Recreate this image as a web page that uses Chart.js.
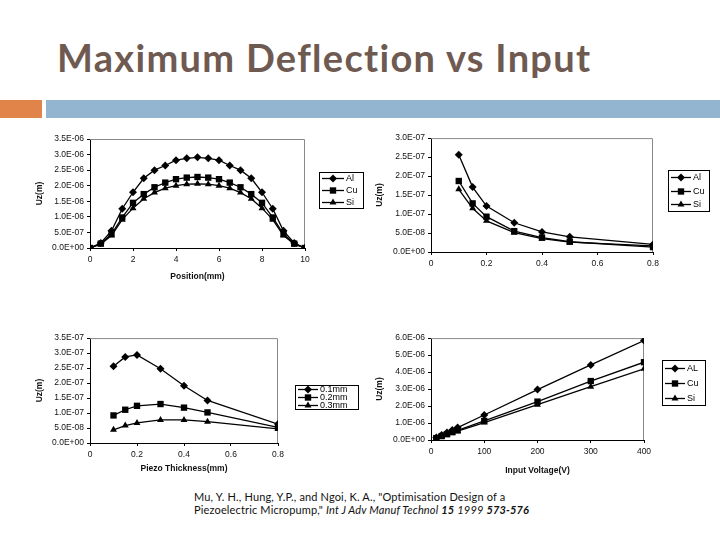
<!DOCTYPE html>
<html>
<head>
<meta charset="utf-8">
<script src="https://cdn.jsdelivr.net/npm/chart.js@4.4.1/dist/chart.umd.min.js"></script>
<style>
  body { margin: 0; width: 720px; height: 540px; background: #fff; position: relative; overflow: hidden; }
  #title { position: absolute; left: 57px; top: 34px; font-family: "Lato", sans-serif; font-weight: 700;
           font-size: 38px; color: #6f5a52; letter-spacing: 1.3px; white-space: nowrap; }
  .bar { position: absolute; top: 100px; height: 18px; }
  canvas { position: absolute; }
  #cite { position: absolute; left: 194px; top: 490px; font-family: "Lato", sans-serif; font-size: 11px;
          letter-spacing: 0.15px; line-height: 13px; color: #111; white-space: nowrap; }
</style>
</head>
<body>
<div id="title">Maximum Deflection vs Input</div>
<div class="bar" style="left:0;width:42px;background:#e0844a"></div>
<div class="bar" style="left:46px;width:674px;background:#94b5d0"></div>

<canvas id="c1" width="340" height="155" style="left:30px;top:130px"></canvas>
<canvas id="c2" width="350" height="150" style="left:370px;top:130px"></canvas>
<canvas id="c3" width="340" height="160" style="left:30px;top:330px"></canvas>
<canvas id="c4" width="350" height="160" style="left:370px;top:330px"></canvas>

<div id="cite">Mu, Y. H., Hung, Y.P., and Ngoi, K. A., "Optimisation Design of a<br>
Piezoelectric Micropump," <i>Int J Adv Manuf Technol</i> <b><i>15</i></b> <i>1999</i> <b><i>573-576</i></b></div>

<script>
// --- data ---
const positionMm = [0, 0.5, 1, 1.5, 2, 2.5, 3, 3.5, 4, 4.5, 5, 5.5, 6, 6.5, 7, 7.5, 8, 8.5, 9, 9.5, 10];
const posAl = [0, 1.6e-7, 5.5e-7, 1.26e-6, 1.79e-6, 2.24e-6, 2.50e-6, 2.65e-6, 2.82e-6, 2.88e-6, 2.91e-6,
               2.88e-6, 2.82e-6, 2.65e-6, 2.50e-6, 2.24e-6, 1.79e-6, 1.26e-6, 5.5e-7, 1.6e-7, 0];
const posCu = [0, 1.4e-7, 4.5e-7, 9.8e-7, 1.45e-6, 1.73e-6, 1.95e-6, 2.10e-6, 2.21e-6, 2.26e-6, 2.28e-6,
               2.26e-6, 2.21e-6, 2.10e-6, 1.95e-6, 1.73e-6, 1.45e-6, 9.8e-7, 4.5e-7, 1.4e-7, 0];
const posSi = [0, 1.2e-7, 4.0e-7, 9.1e-7, 1.28e-6, 1.58e-6, 1.78e-6, 1.92e-6, 2.00e-6, 2.05e-6, 2.06e-6,
               2.05e-6, 2.00e-6, 1.92e-6, 1.78e-6, 1.58e-6, 1.28e-6, 9.1e-7, 4.0e-7, 1.2e-7, 0];

const thicknessMm = [0.1, 0.15, 0.2, 0.3, 0.4, 0.5, 0.8];
const thkAl = [2.56e-7, 1.71e-7, 1.21e-7, 7.7e-8, 5.3e-8, 4.0e-8, 2.0e-8];
const thkCu = [1.87e-7, 1.28e-7, 9.3e-8, 5.5e-8, 3.8e-8, 2.7e-8, 1.3e-8];
const thkSi = [1.65e-7, 1.15e-7, 8.2e-8, 5.1e-8, 3.5e-8, 2.6e-8, 1.6e-8];

const piezoMm = [0.1, 0.15, 0.2, 0.3, 0.4, 0.5, 0.8];
const pz01 = [2.56e-7, 2.87e-7, 2.94e-7, 2.48e-7, 1.91e-7, 1.42e-7, 6.3e-8];
const pz02 = [9.2e-8, 1.11e-7, 1.24e-7, 1.30e-7, 1.18e-7, 1.02e-7, 5.2e-8];
const pz03 = [4.4e-8, 5.8e-8, 6.7e-8, 7.7e-8, 7.7e-8, 7.1e-8, 4.7e-8];

const voltageV = [10, 20, 30, 40, 50, 100, 200, 300, 400];
const voltAl = [1.5e-7, 2.9e-7, 4.4e-7, 5.9e-7, 7.3e-7, 1.47e-6, 2.97e-6, 4.42e-6, 5.86e-6];
const voltCu = [1.1e-7, 2.3e-7, 3.4e-7, 4.6e-7, 5.7e-7, 1.12e-6, 2.26e-6, 3.47e-6, 4.58e-6];
const voltSi = [1.0e-7, 2.1e-7, 3.1e-7, 4.2e-7, 5.2e-7, 1.03e-6, 2.08e-6, 3.14e-6, 4.19e-6];

const materialLabels = ['Al', 'Cu', 'Si'];
const voltLabels = ['AL', 'Cu', 'Si'];
const piezoLabels = ['0.1mm', '0.2mm', '0.3mm'];
const markers = ['rectRot', 'rect', 'triangle'];

// --- helpers ---
function sci(v) {
  const [m, e] = Number(v).toExponential(1).split('e');
  const n = Math.abs(parseInt(e, 10));
  return m + 'E' + (e[0] === '-' ? '-' : '+') + String(n).padStart(2, '0');
}

function makeSets(xs, series, labels) {
  return series.map((ys, i) => ({
    label: labels[i],
    data: xs.map((x, j) => ({ x: x, y: ys[j] })),
    showLine: true,
    borderColor: '#000',
    backgroundColor: '#000',
    borderWidth: 1.3,
    pointStyle: markers[i],
    pointRadius: i === 1 ? 4.5 : 4,
    pointBorderWidth: 0,
    pointBackgroundColor: '#000'
  }));
}

const frame = {
  id: 'frame',
  beforeDatasetsDraw(chart) {
    const a = chart.chartArea, ctx = chart.ctx;
    ctx.save();
    ctx.strokeStyle = '#888';
    ctx.lineWidth = 1;
    ctx.beginPath();
    ctx.moveTo(a.left, a.top + 0.5);
    ctx.lineTo(a.right - 0.5, a.top + 0.5);
    ctx.lineTo(a.right - 0.5, a.bottom);
    ctx.stroke();
    ctx.restore();
  }
};

const boxLegend = {
  id: 'boxLegend',
  afterDraw(chart, args, o) {
    const ctx = chart.ctx;
    const sets = chart.data.datasets;
    const rowH = o.h / sets.length;
    ctx.save();
    ctx.strokeStyle = '#000';
    ctx.lineWidth = 1;
    ctx.strokeRect(o.x + 0.5, o.y + 0.5, o.w, o.h);
    ctx.font = o.font;
    ctx.textBaseline = 'middle';
    ctx.fillStyle = '#000';
    sets.forEach((ds, i) => {
      const cy = Math.round(o.y + rowH * (i + 0.5)) + 0.5;
      ctx.lineWidth = 1.3;
      ctx.beginPath();
      ctx.moveTo(o.x + 3, cy);
      ctx.lineTo(o.x + 3 + o.line, cy);
      ctx.stroke();
      Chart.helpers.drawPoint(ctx, { pointStyle: ds.pointStyle, radius: ds.pointRadius, borderWidth: 0, rotation: 0 },
        o.x + 3 + o.line / 2, cy);
      ctx.fillText(ds.label, o.x + 5 + o.line, cy + 0.5);
    });
    ctx.restore();
  }
};

const tickFont = { family: '"Liberation Sans", Arial, sans-serif', size: 8.5 };
const titleFont = { family: '"Liberation Sans", Arial, sans-serif', size: 8.5, weight: 'bold' };

function makeChart(id, sets, cfg) {
  return new Chart(document.getElementById(id), {
    type: 'scatter',
    data: { datasets: sets },
    plugins: [frame, boxLegend],
    options: {
      responsive: false,
      animation: false,
      layout: { padding: cfg.pad },
      plugins: {
        legend: { display: false },
        tooltip: { enabled: false },
        boxLegend: cfg.legend
      },
      scales: {
        x: {
          type: 'linear', min: cfg.x[0], max: cfg.x[1],
          ticks: { stepSize: cfg.x[2], font: tickFont, color: '#111', padding: 4 },
          grid: { display: true, drawOnChartArea: false, tickLength: 3, color: '#000' },
          border: { color: '#000' },
          title: { display: !!cfg.xTitle, text: cfg.xTitle, font: titleFont, color: '#111', padding: { top: 4, bottom: 0 } },
          afterFit(s) { s.height = cfg.xh; }
        },
        y: {
          type: 'linear', min: cfg.y[0], max: cfg.y[1],
          ticks: { stepSize: cfg.y[2], font: tickFont, color: '#111', padding: 3, callback: v => sci(v) },
          grid: { display: true, drawOnChartArea: false, tickLength: 3, color: '#000' },
          border: { color: '#000' },
          title: { display: true, text: 'Uz(m)', font: titleFont, color: '#111', padding: { top: 5, bottom: 0 } },
          afterFit(s) { s.width = cfg.yw; }
        }
      }
    }
  });
}

const legFont = '9px "Liberation Sans", Arial, sans-serif';

makeChart('c1', makeSets(positionMm, [posAl, posCu, posSi], materialLabels), {
  pad: { top: 9, right: 65, left: 0, bottom: 3 }, x: [0, 10, 2], y: [0, 3.5e-6, 5e-7],
  xTitle: 'Position(mm)', xh: 34, yw: 60,
  legend: { x: 289, y: 42, w: 44, h: 36, line: 22, font: legFont }
});

makeChart('c2', makeSets(thicknessMm, [thkAl, thkCu, thkSi], materialLabels), {
  pad: { top: 8, right: 67, left: 0, bottom: 0 }, x: [0, 0.8, 0.2], y: [0, 3e-7, 5e-8],
  xTitle: '', xh: 28, yw: 61,
  legend: { x: 298, y: 40, w: 41, h: 41, line: 20, font: legFont }
});

makeChart('c3', makeSets(piezoMm, [pz01, pz02, pz03], piezoLabels), {
  pad: { top: 8, right: 92, left: 0, bottom: 16 }, x: [0, 0.8, 0.2], y: [0, 3.5e-7, 5e-8],
  xTitle: 'Piezo Thickness(mm)', xh: 31, yw: 60,
  legend: { x: 265, y: 55, w: 63, h: 24, line: 20, font: legFont }
});

makeChart('c4', makeSets(voltageV, [voltAl, voltCu, voltSi], voltLabels), {
  pad: { top: 5, right: 76, left: 0, bottom: 14 }, x: [0, 400, 100], y: [0, 6e-6, 1e-6],
  xTitle: 'Input Voltage(V)', xh: 36, yw: 61,
  legend: { x: 292, y: 30, w: 43, h: 45, line: 20, font: legFont }
});
</script>
</body>
</html>
